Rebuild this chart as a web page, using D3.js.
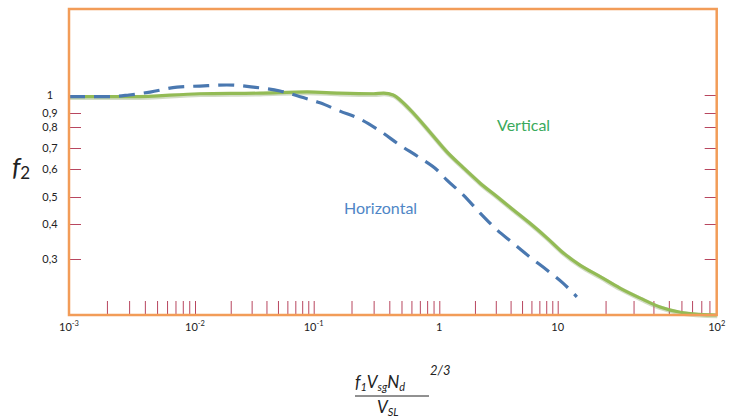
<!DOCTYPE html>
<html>
<head>
<meta charset="utf-8">
<script src="https://cdn.jsdelivr.net/npm/d3@7"></script>
<style>
  body { margin: 0; background: #fff; }
  svg text { font-family: Lato, "Open Sans", sans-serif; }
</style>
</head>
<body>
<svg id="chart" width="733" height="418"></svg>
<script>
// decades on the x axis and their labels (base, exponent)
const xDecades = [1e-3, 1e-2, 1e-1, 1, 10, 100];
const xTickLabels = [["10", "-3"], ["10", "-2"], ["10", "-1"], ["1", ""], ["10", ""], ["10", "2"]];

// y axis ticks (decimal comma as in the figure)
const yDomain = [2, 1, 0.9, 0.8, 0.7, 0.6, 0.5, 0.4, 0.3, 0.2];
const yTicksLeft = [0.9, 0.8, 0.7, 0.6, 0.5, 0.4, 0.3];
const yTicksRight = [1, 0.9, 0.8, 0.7, 0.6, 0.5, 0.4, 0.3];
const yTickLabels = ["1", "0,9", "0,8", "0,7", "0,6", "0,5", "0,4", "0,3"];
const yLabelValues = [1, 0.9, 0.8, 0.7, 0.6, 0.5, 0.4, 0.3];

// Vertical (solid green)
const verticalX = [0.001, 0.0032, 0.011, 0.035, 0.088, 0.16, 0.3, 0.36, 0.43, 0.49, 0.62, 0.84, 1.16, 1.6, 2.2, 3.1, 4.2, 5.8, 8.1, 10.8, 13.8, 18.5, 24.6, 33, 44, 59, 78, 100];
const verticalY = [0.99, 0.99, 1.01, 1.015, 1.025, 1.015, 1.01, 1.016, 1.0, 0.97, 0.9, 0.775, 0.68, 0.605, 0.548, 0.5, 0.45, 0.403, 0.357, 0.316, 0.287, 0.264, 0.243, 0.226, 0.212, 0.204, 0.201, 0.2];

// Horizontal (dashed blue)
const horizontalX = [0.001, 0.0021, 0.003, 0.0044, 0.0072, 0.011, 0.0186, 0.031, 0.052, 0.077, 0.112, 0.162, 0.234, 0.337, 0.486, 0.70, 0.96, 1.16, 1.59, 2.21, 3.07, 4.19, 5.82, 8.1, 10.8, 13.2];
const horizontalY = [0.99, 0.99, 1.0, 1.024, 1.066, 1.075, 1.084, 1.066, 1.033, 0.99, 0.955, 0.91, 0.855, 0.78, 0.713, 0.651, 0.596, 0.558, 0.507, 0.438, 0.381, 0.342, 0.305, 0.277, 0.252, 0.228];

const boxLeft = 69, boxRight = 716.7, boxTop = 9, boxBottom = 315;

// the hand-made figure has unequal decades, so use a piecewise log scale
const x = d3.scaleLog()
    .domain(xDecades)
    .range([boxLeft, 195, 313.7, 439.3, 557.7, boxRight]);

const y = d3.scaleLog()
    .domain(yDomain)
    .range([boxTop, 95, 113, 127, 148, 169, 197, 224, 259, boxBottom]);

const svg = d3.select("#chart");
const tickColor = "#b8465f";
const boxColor = "#f29c58";

// minor ticks along the bottom: 2..9 in each decade plus the inner decades
const minorTicks = [];
xDecades.slice(0, -1).forEach(d => {
    for (let m = 2; m <= 10; m++) minorTicks.push(m * d);
});
const innerTicks = minorTicks.filter(v => v < 99);

const bottomAxis = svg.append("g")
    .attr("transform", `translate(0,${boxBottom})`)
    .call(d3.axisTop(x).tickValues(innerTicks).tickSize(14).tickFormat(""));
bottomAxis.select(".domain").remove();
bottomAxis.selectAll("line").attr("stroke", tickColor).attr("stroke-width", 1);

const leftAxis = svg.append("g")
    .attr("transform", `translate(${boxLeft},0)`)
    .call(d3.axisRight(y).tickValues(yTicksLeft).tickSize(12).tickFormat(""));
leftAxis.select(".domain").remove();
leftAxis.selectAll("line").attr("stroke", tickColor);

const rightAxis = svg.append("g")
    .attr("transform", `translate(${boxRight},0)`)
    .call(d3.axisLeft(y).tickValues(yTicksRight).tickSize(12).tickFormat(""));
rightAxis.select(".domain").remove();
rightAxis.selectAll("line").attr("stroke", tickColor);

// y tick labels
svg.append("g").selectAll("text")
    .data(yLabelValues)
    .join("text")
    .attr("x", 50)
    .attr("y", d => y(d))
    .attr("dy", "0.35em")
    .attr("text-anchor", "middle")
    .attr("font-size", 11)
    .attr("fill", "#222")
    .text((d, i) => yTickLabels[i]);

// x tick labels with superscripts
const xl = svg.append("g").selectAll("text")
    .data(xDecades)
    .join("text")
    .attr("x", d => x(d))
    .attr("y", 331)
    .attr("text-anchor", "middle")
    .attr("font-size", 11)
    .attr("fill", "#222");
xl.append("tspan").text((d, i) => xTickLabels[i][0]);
xl.append("tspan")
    .attr("font-size", 7.5)
    .attr("dy", -5)
    .text((d, i) => xTickLabels[i][1]);

// curves
const line = d3.line()
    .x(d => x(d[0]))
    .y(d => y(d[1]))
    .curve(d3.curveMonotoneX);

const vertical = verticalX.map((v, i) => [v, verticalY[i]]);
const horizontal = horizontalX.map((v, i) => [v, horizontalY[i]]);

svg.append("path")
    .attr("d", line(vertical))
    .attr("fill", "none")
    .attr("stroke", "#7f9a5a")
    .attr("stroke-opacity", 0.35)
    .attr("stroke-width", 4.5)
    .attr("transform", "translate(0.6,1)");

svg.append("path")
    .attr("d", line(vertical))
    .attr("fill", "none")
    .attr("stroke", "#93bb55")
    .attr("stroke-width", 3.2);

svg.append("path")
    .attr("d", line(horizontal))
    .attr("fill", "none")
    .attr("stroke", "#4a78b0")
    .attr("stroke-width", 3.2)
    .attr("stroke-dasharray", "16,9");

// frame
svg.append("rect")
    .attr("x", boxLeft)
    .attr("y", boxTop)
    .attr("width", boxRight - boxLeft)
    .attr("height", boxBottom - boxTop)
    .attr("fill", "none")
    .attr("stroke", boxColor)
    .attr("stroke-width", 2.5);

// series labels
svg.append("text")
    .attr("x", 497).attr("y", 131)
    .attr("font-size", 16)
    .attr("fill", "#3aaa5c")
    .text("Vertical");

svg.append("text")
    .attr("x", 344).attr("y", 214)
    .attr("font-size", 16)
    .attr("fill", "#4f86c6")
    .text("Horizontal");

// y axis title f2
const serif = "'DejaVu Serif', 'Liberation Serif', serif";
const fy = svg.append("text")
    .attr("x", 12).attr("y", 176)
    .attr("font-family", serif)
    .attr("font-style", "italic")
    .attr("font-size", 26)
    .attr("fill", "#222");
fy.append("tspan").text("f");
fy.append("tspan").attr("font-size", 17).attr("dy", 3).attr("font-style", "normal").text("2");

// x axis title: (f1 Vsg Nd / VSL)^(2/3)
const num = svg.append("text")
    .attr("x", 355).attr("y", 388)
    .attr("font-family", serif)
    .attr("font-style", "italic")
    .attr("font-size", 17)
    .attr("fill", "#222");
num.append("tspan").text("f");
num.append("tspan").attr("font-size", 11).attr("dy", 3).text("1");
num.append("tspan").attr("dy", -3).text("V");
num.append("tspan").attr("font-size", 11).attr("dy", 3).text("sg");
num.append("tspan").attr("dy", -3).text("N");
num.append("tspan").attr("font-size", 11).attr("dy", 3).text("d");

svg.append("text")
    .attr("x", 430).attr("y", 375)
    .attr("font-family", serif)
    .attr("font-style", "italic")
    .attr("font-size", 13)
    .attr("fill", "#222")
    .text("2/3");

svg.append("line")
    .attr("x1", 355).attr("x2", 429)
    .attr("y1", 396).attr("y2", 396)
    .attr("stroke", "#222")
    .attr("stroke-width", 1);

const den = svg.append("text")
    .attr("x", 377).attr("y", 413)
    .attr("font-family", serif)
    .attr("font-style", "italic")
    .attr("font-size", 17)
    .attr("fill", "#222");
den.append("tspan").text("V");
den.append("tspan").attr("font-size", 11).attr("dy", 3).text("SL");
</script>
</body>
</html>
